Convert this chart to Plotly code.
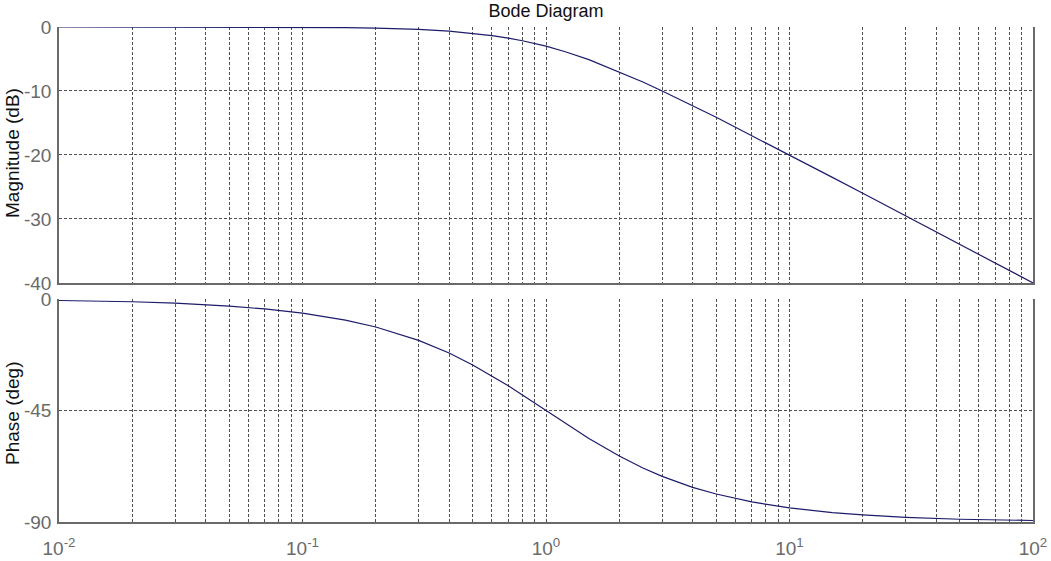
import plotly.graph_objects as go

# Frequencies (rad/s)
freq = [0.01, 0.02, 0.03, 0.05, 0.07, 0.1, 0.15, 0.2, 0.3, 0.4, 0.5, 0.6, 0.7, 0.8, 1.0,
        1.2, 1.5, 2.0, 2.5, 3.0, 4.0, 5.0, 7.0, 10.0, 15.0, 20.0, 30.0, 50.0, 70.0, 100.0]
# Magnitude (dB)
magnitude_db = [0.0, 0.0, 0.0, -0.01, -0.02, -0.04, -0.1, -0.17, -0.37, -0.65, -0.97, -1.34,
                -1.73, -2.15, -3.0, -3.87, -5.1, -7.0, -8.6, -10.0, -12.3, -14.1, -17.0, -20.0,
                -23.5, -26.0, -29.5, -34.0, -36.9, -40.0]
# Phase (deg)
phase_deg = [-0.6, -1.1, -1.7, -2.9, -4.0, -5.7, -8.5, -11.3, -16.7, -21.8, -26.6, -31.0,
             -35.0, -38.7, -45.0, -50.2, -56.3, -63.4, -68.2, -71.6, -76.0, -78.7, -81.9,
             -84.3, -86.2, -87.1, -88.1, -88.9, -89.2, -89.4]

decades = [-2, -1, 0, 1, 2]
grid_vals = []
grid_text = []
for d in decades:
    for m in range(1, 10):
        if d == 2 and m > 1:
            break
        grid_vals.append(m * 10 ** d)
        grid_text.append(f"10<sup>{d}</sup>" if m == 1 else "")

mag_ticks = [0, -10, -20, -30, -40]
phase_ticks = [0, -45, -90]

line_color = "#1c1c6b"
grid_color = "#505050"
axis_color = "#6a6a6a"
font_family = "Liberation Sans, Arial, sans-serif"
tick_font = dict(family=font_family, size=19, color="#6a6a6a")
title_font = dict(family=font_family, size=19, color="#111111")

fig = go.Figure()
fig.add_trace(go.Scatter(x=freq, y=magnitude_db, mode="lines",
                         line=dict(color=line_color, width=1.2), xaxis="x", yaxis="y",
                         showlegend=False))
fig.add_trace(go.Scatter(x=freq, y=phase_deg, mode="lines",
                         line=dict(color=line_color, width=1.2), xaxis="x2", yaxis="y2",
                         showlegend=False))

common_x = dict(type="log", range=[-2, 2], tickvals=grid_vals, showgrid=True,
                gridcolor=grid_color, griddash="3px,2px", gridwidth=1, zeroline=False,
                showline=True, linecolor=axis_color, linewidth=1.5, mirror=False,
                ticks="", tickfont=tick_font, automargin=False)

common_y = dict(showgrid=True, gridcolor=grid_color, griddash="3px,2px", gridwidth=1,
                zeroline=False, showline=True, linecolor=axis_color, linewidth=1.5,
                mirror=True, ticks="", tickfont=tick_font, automargin=False,
                ticklabelstandoff=2)

fig.update_layout(
    width=1051, height=561,
    margin=dict(l=59, r=18, t=27, b=39),
    plot_bgcolor="white", paper_bgcolor="white",
    title=dict(text="Bode Diagram", x=0.5, xanchor="center", xref="paper",
               y=1 - 4 / 561, yanchor="top", yref="container",
               font=dict(family=font_family, size=18, color="#111111")),
    xaxis=dict(**common_x, ticktext=[""] * len(grid_vals), anchor="y", domain=[0, 1]),
    xaxis2=dict(**common_x, ticktext=grid_text, anchor="y2", domain=[0, 1],
                ticklabelstandoff=8),
    yaxis=dict(**common_y, range=[-40, 0], domain=[0.483, 1], tickvals=mag_ticks,
               ticktext=[str(v) for v in mag_ticks]),
    yaxis2=dict(**common_y, range=[-90, 0], domain=[0, 0.4505], tickvals=phase_ticks,
                ticktext=[str(v) for v in phase_ticks]),
    annotations=[
        dict(text="Magnitude (dB)", textangle=-90, xref="paper", yref="paper",
             x=(12 - 59) / 974, y=(522 - 153) / 495, xanchor="center", yanchor="middle",
             showarrow=False, font=title_font),
        dict(text="Phase (deg)", textangle=-90, xref="paper", yref="paper",
             x=(12 - 59) / 974, y=(522 - 413) / 495, xanchor="center", yanchor="middle",
             showarrow=False, font=title_font),
    ],
)

fig.write_html("out.html", config={"displayModeBar": False},
               post_script="document.body.style.margin='0';")
